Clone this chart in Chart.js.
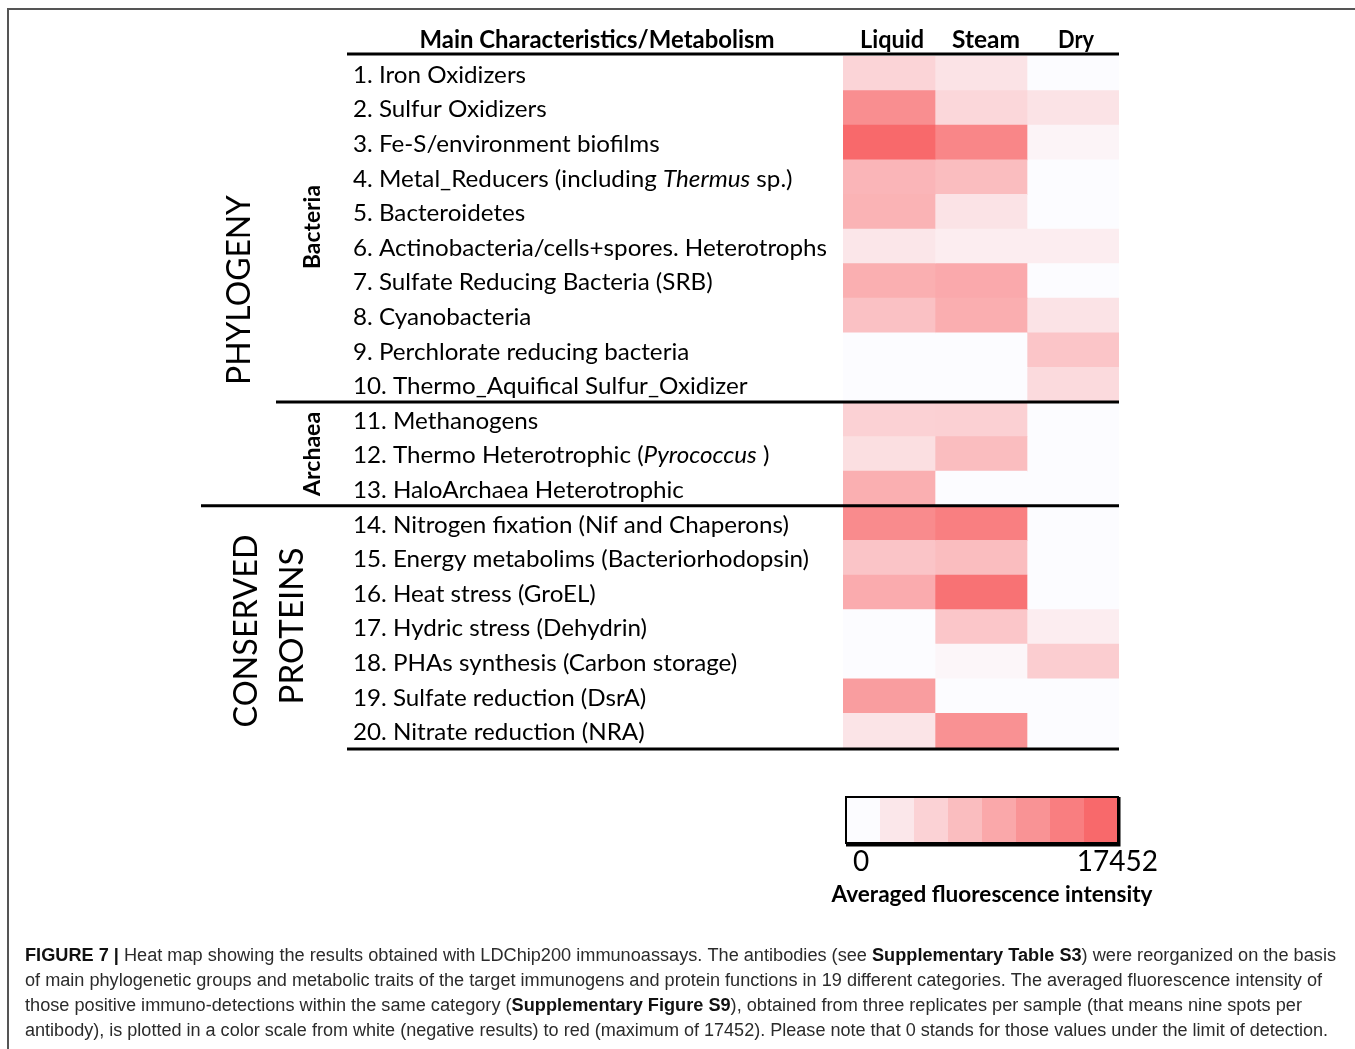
<!DOCTYPE html>
<html>
<head>
<meta charset="utf-8">
<script src="https://cdn.jsdelivr.net/npm/chart.js@4.4.1/dist/chart.umd.min.js"></script>
<style>
  html, body { margin: 0; padding: 0; background: #fff; overflow: hidden; }
  #wrap { width: 1355px; height: 1049px; }
</style>
</head>
<body>
<div id="wrap"><canvas id="heat" width="1355" height="1049"></canvas></div>
<script>
// Sample types (heat-map columns)
const columns = ['Liquid', 'Steam', 'Dry'];

// Categories (heat-map rows)
const rowLabels = [
  '1. Iron Oxidizers',
  '2. Sulfur Oxidizers',
  '3. Fe-S/environment biofilms',
  '4. Metal_Reducers (including Thermus sp.)',
  '5. Bacteroidetes',
  '6. Actinobacteria/cells+spores. Heterotrophs',
  '7. Sulfate Reducing Bacteria (SRB)',
  '8. Cyanobacteria',
  '9. Perchlorate reducing bacteria',
  '10. Thermo_Aquifical Sulfur_Oxidizer',
  '11. Methanogens',
  '12. Thermo Heterotrophic (Pyrococcus )',
  '13. HaloArchaea Heterotrophic',
  '14. Nitrogen fixation (Nif and Chaperons)',
  '15. Energy metabolims (Bacteriorhodopsin)',
  '16. Heat stress (GroEL)',
  '17. Hydric stress (Dehydrin)',
  '18. PHAs synthesis (Carbon storage)',
  '19. Sulfate reduction (DsrA)',
  '20. Nitrate reduction (NRA)'
];
const italicTerms = ['Thermus', 'Pyrococcus'];

// Averaged fluorescence intensity per category and sample
const liquid = [4700, 13100, 17452, 8400, 8700, 2600, 9200, 7000, 0, 0,
                5100, 3500, 9200, 13400, 6600, 9600, 0, 0, 11300, 2800];
const steam  = [3000, 4400, 14000, 7500, 3000, 1800, 9800, 9300, 0, 0,
                5200, 7500, 0, 14800, 7500, 16400, 6400, 700, 0, 12700];
const dry    = [0, 3000, 900, 0, 0, 1800, 0, 3000, 6500, 4000,
                0, 0, 0, 0, 0, 0, 1800, 5600, 0, 0];

const maxIntensity = 17452;
const legendSteps = [0, 2500, 5000, 7500, 10000, 12500, 15000, 17452];

const captionLines = [
  [['b', 'FIGURE 7 |'], ['n', ' Heat map showing the results obtained with LDChip200 immunoassays. The antibodies (see '], ['b', 'Supplementary Table S3'], ['n', ') were reorganized on the basis']],
  [['n', 'of main phylogenetic groups and metabolic traits of the target immunogens and protein functions in 19 different categories. The averaged fluorescence intensity of']],
  [['n', 'those positive immuno-detections within the same category ('], ['b', 'Supplementary Figure S9'], ['n', '), obtained from three replicates per sample (that means nine spots per']],
  [['n', 'antibody), is plotted in a color scale from white (negative results) to red (maximum of 17452). Please note that 0 stands for those values under the limit of detection.']]
];

// White -> red colour scale
const LOW = [252, 252, 255];
const HIGH = [248, 105, 107];
function heatColor(v) {
  const t = Math.max(0, Math.min(1, v / maxIntensity));
  const c = LOW.map((lo, i) => Math.round(lo + (HIGH[i] - lo) * t));
  return `rgb(${c[0]},${c[1]},${c[2]})`;
}

const seriesByColumn = [liquid, steam, dry];
const datasets = seriesByColumn.map((vals, c) => ({
  label: columns[c],
  data: vals.map(() => [c, c + 1]),
  backgroundColor: vals.map(heatColor),
  borderWidth: 0,
  barPercentage: 1,
  categoryPercentage: 1,
  grouped: false
}));

const LABEL_FONT = '"Lato", "Open Sans", sans-serif';

// draw text with a horizontal stretch so it spans a given width
function fitText(ctx, text, x, y, font, width, align) {
  ctx.save();
  ctx.font = font;
  const w = ctx.measureText(text).width;
  const sx = width / w;
  ctx.translate(x, y);
  ctx.scale(sx, 1);
  ctx.textAlign = align || 'left';
  ctx.fillText(text, 0, 0);
  ctx.restore();
}

function vText(ctx, text, x, y, font, len) {
  ctx.save();
  ctx.translate(x, y);
  ctx.rotate(-Math.PI / 2);
  ctx.font = font;
  const sx = len ? len / ctx.measureText(text).width : 1;
  ctx.scale(sx, 1);
  ctx.textAlign = 'center';
  ctx.textBaseline = 'middle';
  ctx.fillText(text, 0, 0);
  ctx.restore();
}

function hLine(ctx, x1, x2, y, w) {
  ctx.save();
  ctx.strokeStyle = '#000';
  ctx.lineWidth = w;
  ctx.beginPath();
  ctx.moveTo(x1, y);
  ctx.lineTo(x2, y);
  ctx.stroke();
  ctx.restore();
}

function splitItalic(text) {
  let parts = [{ t: text, i: false }];
  italicTerms.forEach(term => {
    const next = [];
    parts.forEach(p => {
      if (p.i || !p.t.includes(term)) { next.push(p); return; }
      const bits = p.t.split(term);
      bits.forEach((b, k) => {
        if (b) next.push({ t: b, i: false });
        if (k < bits.length - 1) next.push({ t: term, i: true });
      });
    });
    parts = next;
  });
  return parts;
}

function labelWidth(ctx, text, size) {
  let w = 0;
  splitItalic(text).forEach(p => {
    ctx.font = (p.i ? 'italic ' : '') + size + 'px ' + LABEL_FONT;
    w += ctx.measureText(p.t).width;
  });
  return w;
}

function drawRowLabel(ctx, text, x, y, size, sx) {
  ctx.save();
  ctx.translate(x, y);
  ctx.scale(sx, 1);
  let cx = 0;
  splitItalic(text).forEach(p => {
    ctx.font = (p.i ? 'italic ' : '') + size + 'px ' + LABEL_FONT;
    ctx.fillText(p.t, cx, 0);
    cx += ctx.measureText(p.t).width;
  });
  ctx.restore();
}

const decorations = {
  id: 'decorations',
  beforeDraw(chart) {
    const ctx = chart.ctx;
    ctx.save();
    ctx.fillStyle = '#fff';
    ctx.fillRect(0, 0, chart.width, chart.height);
    ctx.restore();
  },
  afterDraw(chart) {
    const ctx = chart.ctx;
    const xs = chart.scales.x;
    const ys = chart.scales.y;
    const area = chart.chartArea;
    const rowH = ys.getPixelForValue(1) - ys.getPixelForValue(0);
    const rowTop = i => ys.getPixelForValue(i) - rowH / 2;

    ctx.save();
    // figure frame
    ctx.strokeStyle = '#555';
    ctx.lineWidth = 2;
    ctx.beginPath();
    ctx.moveTo(8, chart.height);
    ctx.lineTo(8, 9);
    ctx.lineTo(chart.width, 9);
    ctx.stroke();

    ctx.fillStyle = '#000';
    // header
    ctx.textBaseline = 'middle';
    fitText(ctx, 'Main Characteristics/Metabolism', 597, 40, 'bold 24px ' + LABEL_FONT, 355, 'center');
    const headW = [64, 68, 36];
    const headX = [892, 986, 1076];
    columns.forEach((c, i) => {
      fitText(ctx, c, headX[i], 40, 'bold 24px ' + LABEL_FONT, headW[i], 'center');
    });

    // row labels
    ctx.textAlign = 'left';
    const size = 23;
    const widest = Math.max(...rowLabels.map(l => labelWidth(ctx, l, size)));
    const sx = 474 / widest;
    rowLabels.forEach((lab, i) => {
      drawRowLabel(ctx, lab, 353, ys.getPixelForValue(i) + 2, size, sx);
    });

    // separators
    hLine(ctx, 347, area.right, area.top - 2, 3);
    hLine(ctx, 276, area.right, rowTop(10), 3);
    hLine(ctx, 201, area.right, rowTop(13), 3);
    hLine(ctx, 347, area.right, area.bottom + 1, 3);

    // group labels
    vText(ctx, 'PHYLOGENY', 240, 290, '32px ' + LABEL_FONT, 190);
    vText(ctx, 'Bacteria', 313, 227, 'bold 22px ' + LABEL_FONT, 84);
    vText(ctx, 'Archaea', 313, (rowTop(10) + rowTop(13)) / 2, 'bold 22px ' + LABEL_FONT, 84);
    vText(ctx, 'CONSERVED', 247, 631, '32px ' + LABEL_FONT, 193);
    vText(ctx, 'PROTEINS', 293, 626, '32px ' + LABEL_FONT, 157);

    // colour legend
    const lx = 846, ly = 797, lw = 272, lh = 46;
    const segW = lw / legendSteps.length;
    legendSteps.forEach((v, k) => {
      ctx.fillStyle = heatColor(v);
      ctx.fillRect(lx + k * segW, ly, segW + 0.5, lh);
    });
    ctx.strokeStyle = '#000';
    ctx.lineWidth = 2;
    ctx.strokeRect(lx, ly, lw, lh);
    ctx.lineWidth = 3;
    ctx.beginPath();
    ctx.moveTo(lx + lw + 1, ly);
    ctx.lineTo(lx + lw + 1, ly + lh + 2);
    ctx.lineTo(lx, ly + lh + 2);
    ctx.stroke();

    ctx.fillStyle = '#000';
    ctx.font = '28px ' + LABEL_FONT;
    ctx.textAlign = 'center';
    ctx.fillText('0', 861, 862);
    ctx.textAlign = 'right';
    ctx.fillText(String(maxIntensity), 1158, 862);
    fitText(ctx, 'Averaged fluorescence intensity', 992, 895, 'bold 22.5px ' + LABEL_FONT, 321, 'center');

    // caption
    const capFont = '"Liberation Sans Narrow", "Liberation Sans", Arial, sans-serif';
    const capWidths = [1311, 1297, 1277, 1303];
    ctx.textAlign = 'left';
    captionLines.forEach((segs, li) => {
      let total = 0;
      segs.forEach(([s, t]) => {
        ctx.font = (s === 'b' ? 'bold ' : '') + '18px ' + capFont;
        total += ctx.measureText(t).width;
      });
      const csx = capWidths[li] / total;
      ctx.save();
      ctx.translate(25, 956 + li * 25);
      ctx.scale(csx, 1);
      let cx = 0;
      segs.forEach(([s, t]) => {
        ctx.font = (s === 'b' ? 'bold ' : '') + '18px ' + capFont;
        ctx.fillStyle = s === 'b' ? '#111' : '#2b2b2b';
        ctx.fillText(t, cx, 0);
        cx += ctx.measureText(t).width;
      });
      ctx.restore();
    });
    ctx.restore();
  }
};

new Chart(document.getElementById('heat'), {
  type: 'bar',
  data: { labels: rowLabels, datasets },
  options: {
    indexAxis: 'y',
    responsive: false,
    animation: false,
    events: [],
    layout: { padding: { left: 843, right: 236, top: 56, bottom: 301 } },
    plugins: { legend: { display: false }, tooltip: { enabled: false }, title: { display: false } },
    scales: {
      x: { type: 'linear', min: 0, max: columns.length, display: false },
      y: { type: 'category', display: false, offset: true }
    }
  },
  plugins: [decorations]
});
</script>
</body>
</html>
